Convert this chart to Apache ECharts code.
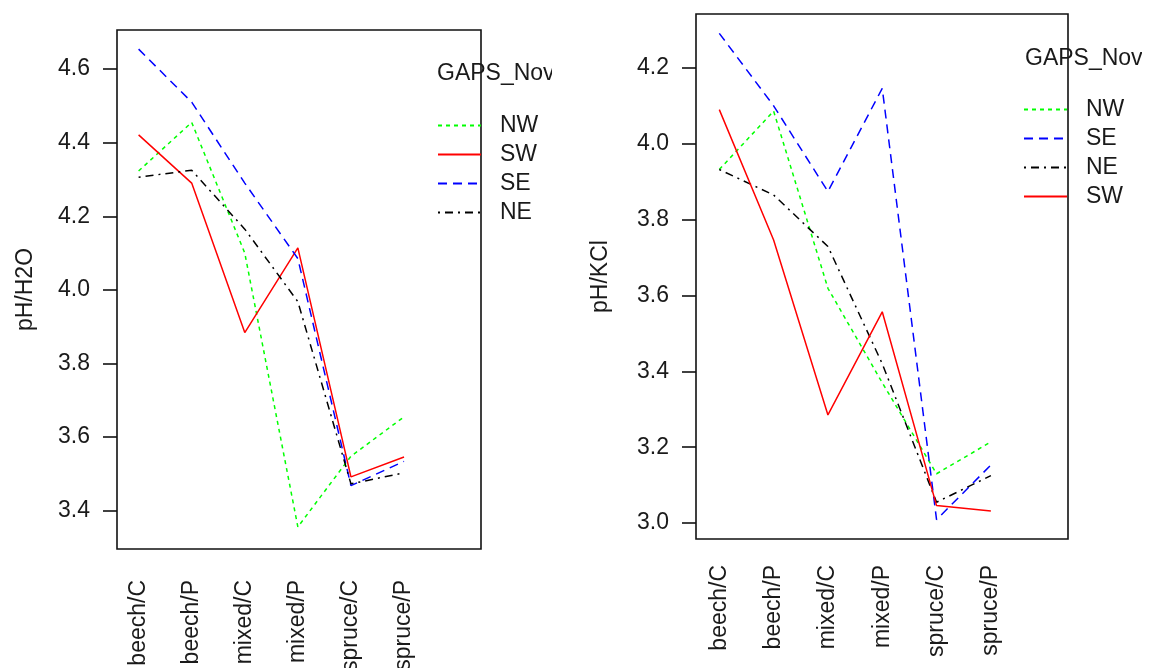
<!DOCTYPE html>
<html>
<head>
<meta charset="utf-8">
<script src="https://cdn.jsdelivr.net/npm/echarts@6/dist/echarts.min.js"></script>
<style>
html,body{margin:0;padding:0;background:#fff;width:1149px;height:668px;overflow:hidden;position:relative;}
#c1{position:absolute;left:0;top:0;width:552px;height:668px;}
#c2{position:absolute;left:552px;top:0;width:590px;height:668px;}
</style>
</head>
<body>
<div id="c1"></div>
<div id="c2"></div>
<script>
// ---- data ----
const categories = ['beech/C', 'beech/P', 'mixed/C', 'mixed/P', 'spruce/C', 'spruce/P'];
const legendTitle = 'GAPS_Nov';

// pH/H2O panel
const h2o_NW = [4.323, 4.455, 4.100, 3.356, 3.548, 3.655];
const h2o_SW = [4.421, 4.290, 3.884, 4.114, 3.492, 3.546];
const h2o_SE = [4.654, 4.510, 4.290, 4.085, 3.468, 3.534];
const h2o_NE = [4.306, 4.325, 4.165, 3.968, 3.473, 3.503];
const h2oTicks = [3.4, 3.6, 3.8, 4.0, 4.2, 4.4, 4.6];
const h2oLegendOrder = ['NW', 'SW', 'SE', 'NE'];

// pH/KCl panel
const kcl_NW = [3.932, 4.086, 3.619, 3.370, 3.130, 3.214];
const kcl_SE = [4.291, 4.100, 3.874, 4.146, 3.009, 3.153];
const kcl_NE = [3.932, 3.865, 3.729, 3.420, 3.055, 3.125];
const kcl_SW = [4.090, 3.746, 3.285, 3.557, 3.046, 3.032];
const kclTicks = [3.0, 3.2, 3.4, 3.6, 3.8, 4.0, 4.2];
const kclLegendOrder = ['NW', 'SE', 'NE', 'SW'];

const catIdx = [1, 2, 3, 4, 5, 6];

// ---- styles ----
const FONT = '"Liberation Sans", Arial, Helvetica, sans-serif';
const FS = 23;
const TXT = '#1a1a1a';
const groupStyle = {
  NW: {color: '#00ff00', type: [4, 4]},
  SW: {color: '#ff0000', type: 'solid'},
  SE: {color: '#0000ff', type: [9, 6]},
  NE: {color: '#000000', type: [2, 5, 8, 5]}
};

function mkSeries(name, vals) {
  const st = groupStyle[name];
  return {
    name: name,
    type: 'line',
    symbol: 'none',
    data: vals.map((v, i) => [catIdx[i], v]),
    lineStyle: {color: st.color, width: 1.5, type: st.type},
    itemStyle: {color: st.color},
    animation: false
  };
}

function mkOption(cfg) {
  return {
    backgroundColor: '#fff',
    animation: false,
    title: {
      text: legendTitle, left: cfg.titleLeft, top: cfg.titleTop, padding: 0,
      textStyle: {fontFamily: FONT, fontSize: FS, fontWeight: 'normal', color: TXT, lineHeight: 26}
    },
    legend: {
      data: cfg.legendOrder,
      orient: 'vertical',
      left: cfg.legLeft, top: cfg.legTop, padding: 0,
      itemWidth: 43, itemHeight: 14, itemGap: 6,
      itemStyle: {opacity: 0, color: 'transparent', borderWidth: 0},
      textStyle: {fontFamily: FONT, fontSize: FS, color: TXT, padding: [0, 0, 0, 14]},
      selectedMode: false
    },
    grid: {
      left: cfg.gl, top: cfg.gt, width: cfg.gw, height: cfg.gh,
      outerBoundsMode: 'none', containLabel: false,
      show: true, borderColor: '#111', borderWidth: 1.6, backgroundColor: 'transparent'
    },
    xAxis: {
      type: 'value', min: cfg.xmin, max: cfg.xmax,
      axisLine: {show: false}, splitLine: {show: false},
      axisTick: {show: false},
      axisLabel: {
        customValues: catIdx,
        rotate: 90, margin: cfg.xLabelMargin,
        fontFamily: FONT, fontSize: FS, color: TXT,
        formatter: v => categories[Math.round(v) - 1] || ''
      }
    },
    yAxis: {
      type: 'value', min: cfg.ymin, max: cfg.ymax,
      name: cfg.yname, nameLocation: 'middle', nameGap: cfg.nameGap, nameRotate: 90,
      nameTextStyle: {fontFamily: FONT, fontSize: FS, color: TXT},
      axisLine: {show: false}, splitLine: {show: false},
      axisTick: {show: true, customValues: cfg.ticks, length: 14, lineStyle: {color: '#111', width: 1.6}},
      axisLabel: {
        customValues: cfg.ticks, margin: 27,
        fontFamily: FONT, fontSize: FS, color: TXT,
        formatter: v => v.toFixed(1)
      }
    },
    series: cfg.series
  };
}

const c1 = echarts.init(document.getElementById('c1'), null, {renderer: 'canvas'});
c1.setOption(mkOption({
  titleLeft: 437, titleTop: 61,
  legLeft: 437, legTop: 114, legendOrder: h2oLegendOrder,
  gl: 117, gt: 30, gw: 364, gh: 519,
  xmin: 0.593, xmax: 7.45, xLabelMargin: 31,
  ymin: 3.296, ymax: 4.706, ticks: h2oTicks,
  yname: 'pH/H2O', nameGap: 80,
  series: [mkSeries('NW', h2o_NW), mkSeries('SW', h2o_SW), mkSeries('SE', h2o_SE), mkSeries('NE', h2o_NE)]
}));

const c2 = echarts.init(document.getElementById('c2'), null, {renderer: 'canvas'});
c2.setOption(mkOption({
  titleLeft: 473, titleTop: 46,
  legLeft: 471, legTop: 98, legendOrder: kclLegendOrder,
  gl: 144, gt: 14, gw: 372, gh: 525,
  xmin: 0.571, xmax: 7.42, xLabelMargin: 26,
  ymin: 2.958, ymax: 4.342, ticks: kclTicks,
  yname: 'pH/KCl', nameGap: 84,
  series: [mkSeries('NW', kcl_NW), mkSeries('SE', kcl_SE), mkSeries('NE', kcl_NE), mkSeries('SW', kcl_SW)]
}));
</script>
</body>
</html>
